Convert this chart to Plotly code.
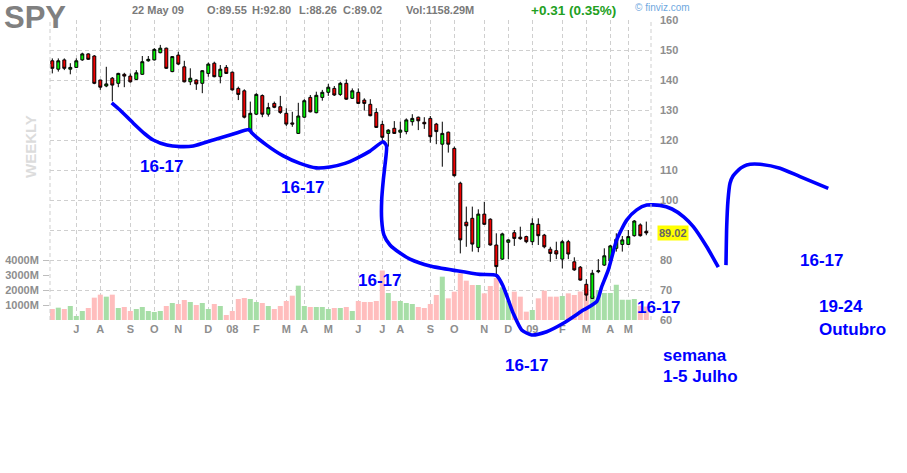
import plotly.graph_objects as go

W, H = 907, 473
FONT = "Liberation Sans, Arial, sans-serif"

# ---------------- data (weekly SPY, Jun 2007 .. 22 May 2009, dividend adjusted) -------------
opens = [146.4, 143.6, 146.7, 143.6, 144.2, 146.7, 148.7, 148.0, 140.0, 138.0,
         140.6, 138.9, 141.9, 141.3, 140.2, 141.9, 146.4, 146.7, 149.1, 150.6,
         142.8, 148.3, 144.4, 139.4, 140.0, 138.9, 142.2, 145.6, 141.1, 144.2,
         142.6, 137.2, 136.4, 122.8, 128.6, 134.8, 128.6, 132.2, 131.1, 128.9,
         125.7, 122.2, 127.6, 134.2, 129.1, 134.2, 135.9, 137.2, 135.2, 138.9,
         133.9, 135.9, 133.3, 131.9, 129.2, 125.2, 122.2, 123.9, 122.6, 122.8,
         126.1, 127.6, 125.9, 127.2, 125.3, 118.6, 122.6, 117.2, 105.6, 92.6,
         93.9, 84.2, 95.3, 93.6, 85.0, 80.3, 85.9, 89.1, 87.6, 87.8,
         86.1, 91.9, 88.3, 83.6, 83.1, 80.3, 86.1, 79.4, 77.6, 71.9,
         67.2, 76.1, 78.3, 79.7, 83.9, 85.2, 85.2, 88.1, 91.7, 89.55]
highs = [147.2, 147.2, 147.2, 145.6, 147.2, 149.1, 148.9, 148.3, 140.0, 144.4,
         141.0, 142.4, 142.4, 142.2, 143.3, 148.0, 148.0, 150.6, 151.7, 150.8,
         148.0, 149.4, 146.4, 143.9, 140.2, 143.3, 145.8, 146.1, 145.0, 145.0,
         142.8, 137.8, 136.9, 132.8, 135.6, 135.2, 132.4, 132.8, 134.7, 130.6,
         129.4, 132.4, 133.6, 135.0, 136.1, 136.7, 138.7, 138.0, 139.4, 140.2,
         137.2, 137.2, 133.9, 133.6, 130.6, 126.4, 123.6, 126.3, 126.1, 127.2,
         128.6, 127.8, 127.6, 128.0, 125.7, 126.1, 122.8, 117.8, 106.1, 97.8,
         97.8, 96.9, 99.4, 93.9, 88.9, 89.1, 86.9, 90.0, 91.1, 88.1,
         93.9, 93.9, 88.7, 84.4, 86.1, 86.7, 86.7, 80.9, 78.0, 73.6,
         76.7, 80.3, 83.9, 85.0, 88.9, 88.0, 90.0, 93.3, 92.2, 92.80]
lows = [142.2, 142.8, 143.3, 141.9, 144.0, 146.4, 146.7, 138.6, 136.7, 137.6,
        132.9, 137.6, 137.6, 139.1, 140.0, 141.7, 146.1, 146.5, 148.9, 143.7,
        142.6, 145.0, 139.2, 138.3, 136.7, 135.6, 141.1, 140.9, 138.9, 142.0,
        136.5, 133.3, 127.2, 122.5, 128.3, 127.6, 127.8, 130.6, 128.7, 124.7,
        124.4, 122.0, 127.4, 129.2, 128.9, 133.1, 134.7, 134.7, 134.7, 133.4,
        133.7, 132.0, 129.8, 127.9, 124.0, 119.5, 117.8, 122.0, 120.6, 121.9,
        124.8, 123.3, 123.7, 119.1, 118.6, 111.1, 115.8, 107.8, 82.2, 84.4,
        82.8, 82.6, 91.7, 84.8, 75.0, 80.0, 80.3, 84.7, 86.7, 85.6,
        85.0, 85.0, 83.9, 79.4, 80.3, 77.2, 80.3, 76.4, 73.1, 66.4,
        67.0, 75.6, 78.0, 78.3, 82.8, 82.8, 85.0, 87.8, 87.8, 88.26]
closes = [143.9, 146.4, 143.9, 144.2, 146.4, 148.7, 146.9, 138.9, 137.6, 138.7,
          138.3, 142.2, 141.3, 139.4, 142.4, 146.1, 146.9, 150.2, 150.6, 143.9,
          147.8, 145.3, 139.4, 140.6, 138.7, 143.1, 145.3, 141.1, 143.6, 142.2,
          136.7, 135.2, 127.6, 128.9, 135.2, 128.6, 130.8, 130.9, 129.2, 125.3,
          125.3, 128.0, 133.1, 129.4, 134.9, 135.9, 137.6, 135.0, 138.9, 133.6,
          136.4, 132.2, 132.2, 128.1, 124.2, 120.9, 123.3, 122.2, 123.3, 126.7,
          127.2, 126.4, 125.4, 121.1, 122.8, 122.2, 118.6, 108.1, 86.7, 91.4,
          85.3, 95.3, 91.9, 85.0, 77.8, 88.7, 86.7, 87.2, 87.1, 86.1,
          92.2, 88.1, 84.4, 82.2, 82.0, 86.1, 82.0, 76.7, 73.3, 68.3,
          75.6, 76.4, 81.4, 84.7, 86.9, 86.7, 87.8, 93.0, 88.1, 89.02]
volumes_m = [733, 822, 733, 933, 267, 600, 800, 1489, 1689, 1556,
             1689, 800, 867, 600, 733, 867, 600, 533, 600, 933,
             1133, 1067, 1333, 1200, 1000, 1133, 733, 1067, 933, 333,
             600, 1400, 1467, 1400, 1200, 1133, 933, 733, 933, 1267,
             1622, 2289, 933, 867, 867, 867, 733, 800, 800, 867,
             600, 1267, 1200, 1200, 1267, 3300, 1800, 1267, 1267, 1133,
             1067, 867, 800, 1067, 1667, 2889, 1444, 1889, 3111, 2622,
             2333, 2333, 1778, 2267, 2800, 2178, 1300, 1889, 1556, 556,
             667, 1444, 1956, 1556, 1556, 1600, 1778, 1667, 1900, 2100,
             1600, 2000, 1800, 1800, 2350, 1350, 1350, 1400, 950, 900]
week_index = list(range(len(closes)))

month_ticks = [4, 8, 13, 17, 21, 26, 30, 34, 39, 42, 46, 51, 55, 58, 63, 67, 72, 76, 80, 85, 89, 93, 96]
month_labels = ["J", "A", "S", "O", "N", "D", "08", "F", "M", "A", "M", "J",
                "J", "A", "S", "O", "N", "D", "09", "F", "M", "A", "M"]
price_ticks = [60, 70, 80, 90, 100, 110, 120, 130, 140, 150, 160]
# the 90 label is hidden behind the last-price marker in the original
price_labels = ["60", "70", "80", "", "100", "110", "120", "130", "140", "150", "160"]
vol_ticks = [1000, 2000, 3000, 4000]
vol_labels = ["1000M", "2000M", "3000M", "4000M"]

# hand-drawn forecast paths (week index, price)
path1_week = [9.90, 11.28, 13.50, 15.45, 16.83, 19.07, 21.28, 23.50, 26.83, 30.17, 32.83,
              33.28, 35.73, 38.50, 41.28, 43.95, 46.28, 48.78, 50.73, 52.95, 55.17,
              55.70, 55.45, 55.17, 54.90, 54.90, 55.28, 56.28, 57.95, 59.62, 62.95, 67.40,
              71.28, 74.07, 75.17, 76.83, 78.23, 79.90, 82.40, 85.17, 88.50, 90.73,
              91.57, 92.67, 94.07, 95.73, 97.40, 99.07, 101.28, 103.28, 105.28, 106.83,
              109.07, 111.00]
path1_price = [132.4, 130.0, 125.6, 122.0, 120.0, 118.3, 117.8, 118.0, 120.0, 122.0, 123.5,
               122.3, 118.3, 114.7, 112.2, 110.7, 111.0, 112.2, 113.9, 116.3, 119.4,
               118.0, 111.7, 106.7, 100.0, 93.3, 88.3, 85.0, 82.3, 80.3, 78.0, 76.4,
               75.2, 74.8, 71.1, 62.2, 56.7, 55.0, 56.1, 58.9, 63.3, 66.1,
               71.1, 76.7, 86.7, 93.3, 96.7, 98.3, 98.2, 97.0, 94.3, 91.1,
               84.4, 77.6]
path2_week = [112.28, 112.40, 112.62, 112.95, 113.45, 114.07, 114.78, 115.73, 117.95,
              121.28, 124.62, 129.33]
path2_price = [78.3, 91.1, 100.0, 105.6, 108.0, 109.4, 110.7, 111.7, 111.9,
               110.6, 107.8, 103.9]

# ---------------- geometry helpers (pixel -> paper) ----------------
def px(x):
    return x / W

def py(y):
    return 1 - y / H

PLOT_L, PLOT_R, PLOT_T, PLOT_B = 50, 651, 20, 320
STEP, X0 = 6.0, 52.3  # pixels per week, pixel of first week

GRID = "#cfcfcf"
GRIDDASH = "4px,3px"
TICKGRAY = "#8e8e8e"

fig = go.Figure()

vol_colors = ["#a7dea7" if c >= o else "#ffbdbd" for o, c in zip(opens, closes)]
fig.add_trace(go.Bar(x=week_index, y=volumes_m, marker=dict(color=vol_colors, line=dict(width=0)),
                     width=0.84, xaxis="x", yaxis="y", hoverinfo="skip", showlegend=False))

fig.add_trace(go.Candlestick(
    x=week_index, open=opens, high=highs, low=lows, close=closes,
    xaxis="x", yaxis="y2", showlegend=False, hoverinfo="skip", whiskerwidth=0,
    increasing=dict(fillcolor="#00f000", line=dict(color="#000000", width=1)),
    decreasing=dict(fillcolor="#f00000", line=dict(color="#000000", width=1)),
))

for wk, pr in ((path1_week, path1_price), (path2_week, path2_price)):
    fig.add_trace(go.Scatter(x=wk, y=pr, mode="lines", xaxis="x2", yaxis="y3",
                             line=dict(color="#0000ff", width=3.6, shape="spline", smoothing=0.6),
                             hoverinfo="skip", showlegend=False, cliponaxis=False))

xr = [(PLOT_L - X0) / STEP, (PLOT_R - X0) / STEP]
ydom = [py(PLOT_B), py(PLOT_T)]
tickfont = dict(family=FONT, size=11, color=TICKGRAY, weight="bold")

fig.update_layout(
    width=W, height=H, margin=dict(l=0, r=0, t=0, b=0, autoexpand=False),
    paper_bgcolor="white", plot_bgcolor="rgba(0,0,0,0)",
    showlegend=False, boxgap=0.3,
    xaxis=dict(domain=[px(PLOT_L), px(PLOT_R)], range=xr, anchor="y",
               tickvals=month_ticks, ticktext=month_labels, tickfont=tickfont,
               showgrid=True, gridcolor=GRID, griddash=GRIDDASH, gridwidth=1,
               zeroline=False, showline=False, ticks="", rangeslider=dict(visible=False),
               fixedrange=True, automargin=False, ticklabelstandoff=1),
    yaxis=dict(domain=ydom, range=[0, 20000], side="left", anchor="x",
               tickvals=vol_ticks, ticktext=vol_labels, tickfont=tickfont,
               showgrid=False, zeroline=False, showline=False, automargin=False,
               ticks="outside", ticklen=6, tickcolor="#bdbdbd", ticklabelstandoff=2),
    yaxis2=dict(domain=ydom, range=[60, 160], side="right", overlaying="y", anchor="x",
                tickvals=price_ticks, ticktext=price_labels, tickfont=tickfont, showgrid=True,
                gridcolor=GRID, griddash=GRIDDASH, gridwidth=1, zeroline=False, showline=False,
                ticks="", ticklabelstandoff=8, automargin=False),
    xaxis2=dict(domain=[0, 1], range=[-X0 / STEP, (W - X0) / STEP], anchor="y3", visible=False),
    yaxis3=dict(domain=[0, 1], range=[160 - (H - PLOT_T) / 3, 160 + PLOT_T / 3], anchor="x2", visible=False),
)

# frame borders (left / right dashed)
for xb in (PLOT_L, PLOT_R):
    fig.add_shape(type="line", xref="paper", yref="paper", x0=px(xb), x1=px(xb),
                  y0=py(PLOT_B), y1=py(PLOT_T), line=dict(color=GRID, width=1, dash=GRIDDASH))

ann = []
def text(s, x, y, size, color, xanchor="left", weight="bold", **kw):
    ann.append(dict(text=s, x=px(x), y=py(y), xref="paper", yref="paper", showarrow=False,
                    xanchor=xanchor, yanchor="middle",
                    font=dict(family=FONT, size=size, color=color, weight=weight), **kw))

text("SPY", 2, 18, 31, "#808080")
text("22 May 09", 130, 10, 11, "#7a7a7a")
text("O:89.55", 205, 10, 11, "#7a7a7a")
text("H:92.80", 250, 10, 11, "#7a7a7a")
text("L:88.26", 297, 10, 11, "#7a7a7a")
text("C:89.02", 341, 10, 11, "#7a7a7a")
text("Vol:1158.29M", 404, 10, 11, "#7a7a7a")
text("+0.31 (0.35%)", 529, 10, 13.5, "#22a022")
text("© finviz.com", 633, 8, 10, "#6fa8e0", weight="normal")
text("WEEKLY", 31, 147, 15, "#dcdcdc", xanchor="center", textangle=-90)

ann.append(dict(text="89.02", x=px(657), y=closes[-1], xref="paper", yref="y2", showarrow=False,
                xanchor="left", yanchor="middle", bgcolor="#ffff00", borderpad=1,
                font=dict(family=FONT, size=11, color="#666666", weight="bold")))

BLUE = "#0000ff"
for (x, y) in [(161.5, 166), (302.5, 187), (379.5, 280), (658.5, 307), (821, 260), (526.5, 365)]:
    text("16-17", x, y, 17, BLUE, xanchor="center")
text("semana", 661, 355, 17, BLUE)
text("1-5 Julho", 661, 376, 17, BLUE)
text("19-24", 817, 306, 17, BLUE)
text("Outubro", 817, 329, 17, BLUE)

fig.update_layout(annotations=ann)
fig.write_html("out.html", config={"displayModeBar": False, "staticPlot": True},
               post_script="document.body.style.margin='0';document.body.style.overflow='hidden';")
